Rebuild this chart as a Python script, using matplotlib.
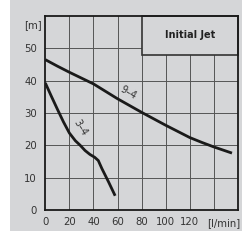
import numpy as np
import matplotlib
matplotlib.use("Agg")
import matplotlib.pyplot as plt
from matplotlib.patches import Rectangle

# curve readings (flow l/min, head m)
flow_94 = [0, 10, 20, 30, 40, 50, 60, 70, 80, 90, 100, 110, 120, 130, 140, 155]
head_94 = [46.5, 44.5, 42.6, 40.8, 39.0, 36.7, 34.4, 32.3, 30.2, 28.2, 26.2,
           24.3, 22.4, 20.9, 19.5, 17.6]
flow_34 = [0, 5, 10, 15, 20, 25, 29, 33, 37, 41, 44, 47, 52.5, 58]
head_34 = [39.3, 35.2, 31.2, 27.3, 23.8, 21.4, 20.0, 18.4, 17.2, 16.3, 15.3,
           12.8, 8.7, 4.4]

x_ticks = [0, 20, 40, 60, 80, 100, 120]
y_ticks = [0, 10, 20, 30, 40, 50]

BG = "#d5d6d8"
TXT = "#333333"

fig = plt.figure(figsize=(2.42, 2.43), dpi=100)
fig.patch.set_facecolor("white")
fig.patches.append(Rectangle((10 / 242, 1 - 231 / 243), 232 / 242, 231 / 243,
                             transform=fig.transFigure, facecolor=BG,
                             edgecolor="none", zorder=-10))

ax = fig.add_axes([45.3 / 242, 1 - 210 / 243, (238 - 45.3) / 242, (210 - 16) / 243])
ax.set_facecolor(BG)
ax.set_xlim(0, 160)
ax.set_ylim(0, 60)

for xv in range(20, 160, 20):
    ax.axvline(xv, color="#555555", lw=0.7, zorder=1)
for yv in range(10, 60, 10):
    ax.axhline(yv, color="#555555", lw=0.7, zorder=1)

ax.plot(flow_94, head_94, color="#1a1a1a", lw=2.0, zorder=3,
        solid_capstyle="butt", solid_joinstyle="round")
ax.plot(flow_34, head_34, color="#1a1a1a", lw=2.0, zorder=3,
        solid_capstyle="butt", solid_joinstyle="round")

ax.text(69, 36.2, "9–4", rotation=-30, ha="center", va="center",
        fontsize=7, color=TXT, zorder=4)
ax.text(29.0, 25.6, "3–4", rotation=-58, ha="center", va="center",
        fontsize=7, color=TXT, zorder=4)

ax.add_patch(Rectangle((80, 48), 80, 12, facecolor=BG, edgecolor="#333333",
                       lw=1.2, zorder=5, clip_on=False))
ax.text(120, 54, "Initial Jet", ha="center", va="center", fontsize=7,
        fontweight="bold", color="#222222", zorder=6)

ax.set_xticks(x_ticks)
ax.set_xticklabels([str(v) for v in x_ticks])
ax.set_yticks(y_ticks)
ax.set_yticklabels([str(v) for v in y_ticks])
ax.tick_params(length=0, labelsize=7.3, colors=TXT)
ax.tick_params(axis="x", pad=5)
ax.tick_params(axis="y", pad=6)
ax.text(148.5, -2.6, "[l/min]", ha="center", va="top", fontsize=7.3,
        color=TXT, clip_on=False)
ax.text(-2.5, 57.2, "[m]", ha="right", va="center", fontsize=7.3,
        color=TXT, clip_on=False)

for s in ax.spines.values():
    s.set_color("#1a1a1a")
    s.set_linewidth(1.3)
    s.set_zorder(7)

fig.savefig("out.png", dpi=100)
